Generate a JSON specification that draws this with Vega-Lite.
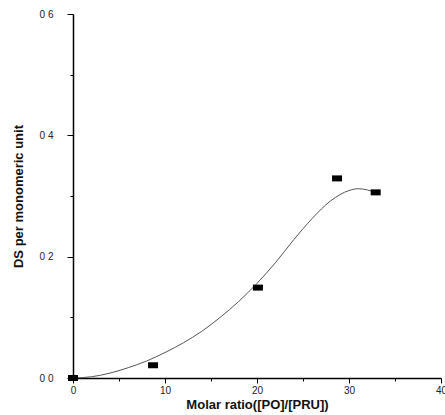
{
  "$schema": "https://vega.github.io/schema/vega-lite/v6.json",
  "width": 368,
  "height": 364,
  "autosize": {"type": "none"},
  "padding": {"left": 73, "top": 14, "right": 4, "bottom": 37},
  "background": "white",
  "config": {"view": {"stroke": null}, "font": "Liberation Sans"},
  "datasets": {
    "pts": [
      {"ratio": 0, "ds": 0},
      {"ratio": 8.7, "ds": 0.021},
      {"ratio": 20.1, "ds": 0.149},
      {"ratio": 28.7, "ds": 0.329},
      {"ratio": 32.9, "ds": 0.306}
    ],
    "fit": [
      {"ratio": 0, "ds": 0},
      {"ratio": 2, "ds": 0.002},
      {"ratio": 4, "ds": 0.008},
      {"ratio": 6, "ds": 0.017},
      {"ratio": 8, "ds": 0.028},
      {"ratio": 10, "ds": 0.042},
      {"ratio": 12, "ds": 0.058},
      {"ratio": 14, "ds": 0.077},
      {"ratio": 16, "ds": 0.1},
      {"ratio": 18, "ds": 0.126},
      {"ratio": 20, "ds": 0.156},
      {"ratio": 22, "ds": 0.19},
      {"ratio": 24, "ds": 0.228},
      {"ratio": 26, "ds": 0.263},
      {"ratio": 28, "ds": 0.292},
      {"ratio": 30, "ds": 0.309},
      {"ratio": 31, "ds": 0.312},
      {"ratio": 32, "ds": 0.31},
      {"ratio": 33, "ds": 0.305}
    ]
  },
  "layer": [
    {
      "data": {"name": "fit"},
      "mark": {"type": "line", "color": "#555", "strokeWidth": 1, "interpolate": "monotone"},
      "encoding": {
        "x": {
          "field": "ratio", "type": "quantitative",
          "scale": {"domain": [0, 40], "nice": false},
          "axis": {
            "title": "Molar ratio([PO]/[PRU])",
            "values": [0, 5, 10, 15, 20, 25, 30, 35, 40],
            "labelExpr": "datum.value % 10 === 0 ? datum.label : ''",
            "tickSize": {"condition": {"test": "datum.value % 10 === 0", "value": 5}, "value": 3},
            "grid": false,
            "domainColor": "black", "domainWidth": 1.5,
            "tickColor": "black",
            "labelFontSize": 10, "labelColor": "#222", "labelPadding": 2,
            "labelFlush": false,
            "titleFontSize": 13, "titleFontWeight": "bold", "titleColor": "#111",
            "titlePadding": 3
          }
        },
        "y": {
          "field": "ds", "type": "quantitative",
          "scale": {"domain": [0, 0.6], "nice": false},
          "axis": {
            "title": "DS per monomeric unit",
            "values": [0, 0.1, 0.2, 0.3, 0.4, 0.5, 0.6],
            "labelExpr": "(datum.value * 10) % 2 < 0.01 ? replace(format(datum.value, '.1f'), '.', ' ') : ''",
            "tickSize": {"condition": {"test": "(datum.value * 10) % 2 < 0.01", "value": 6}, "value": 3},
            "grid": false,
            "domainColor": "black", "domainWidth": 1.5,
            "tickColor": "black",
            "labelFontSize": 10, "labelColor": "#222", "labelPadding": 14,
            "titleFontSize": 13, "titleFontWeight": "bold", "titleColor": "#111",
            "titlePadding": 14
          }
        }
      }
    },
    {
      "data": {"name": "pts"},
      "mark": {"type": "point", "shape": "M-1,-0.6H1V0.6H-1Z", "filled": true, "color": "black", "opacity": 1, "size": 100},
      "encoding": {
        "x": {"field": "ratio", "type": "quantitative"},
        "y": {"field": "ds", "type": "quantitative"}
      }
    }
  ]
}
